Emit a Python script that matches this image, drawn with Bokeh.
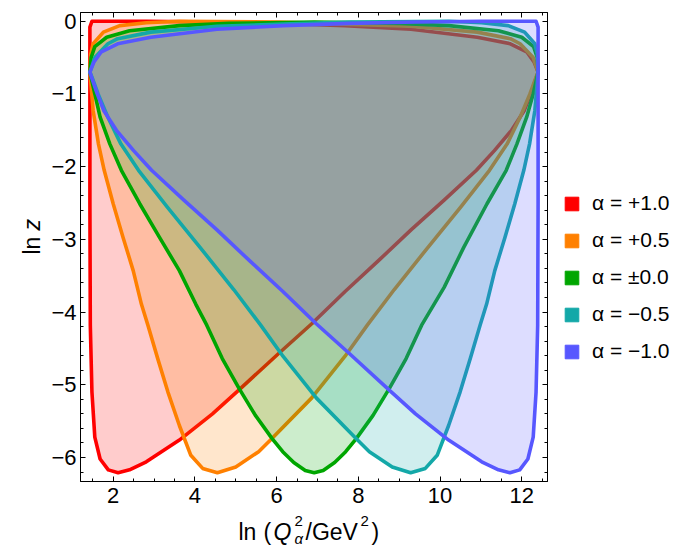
import numpy as np
from bokeh.plotting import figure
from bokeh.layouts import row, column
from bokeh.models import (Range1d, LinearAxis, FixedTicker, Label, Legend, LegendItem)
from bokeh.embed import file_html
from bokeh.resources import INLINE

# ---------------- data ----------------
alpha_labels = ["α = +1.0", "α = +0.5", "α = ±0.0", "α = −0.5", "α = −1.0"]
colors = ["#ff0000", "#ff8000", "#00a600", "#13a8a8", "#5757ff"]

x_tick_vals = [2, 4, 6, 8, 10, 12]
x_tick_text = ["2", "4", "6", "8", "10", "12"]
y_tick_vals = [0, -1, -2, -3, -4, -5, -6]
y_tick_text = ["0", "−1", "−2", "−3", "−4", "−5", "−6"]

# boundary of allowed region, alpha = +1.0  (ln Q^2, ln z)
lnq2_p10 = [1.43, 1.48, 2.81, 4.43, 6.05, 7.67, 9.29, 10.91, 11.72, 12.12, 12.30, 12.40,
            12.33, 12.22, 12.06, 11.75, 11.33, 10.89, 10.10, 9.29, 8.48, 7.67, 6.86, 6.05,
            5.08, 4.43, 3.62, 2.81, 2.40, 2.12, 1.88, 1.68, 1.55, 1.48, 1.44, 1.43]
lnz_p10 = [-0.08, 0.00, 0.00, -0.01, -0.03, -0.06, -0.11, -0.22, -0.31, -0.42, -0.56, -0.70,
           -0.82, -1.00, -1.23, -1.50, -1.78, -2.05, -2.46, -2.87, -3.30, -3.72, -4.16, -4.57,
           -5.07, -5.40, -5.76, -6.06, -6.17, -6.21, -6.17, -6.02, -5.72, -5.10, -4.18, -2.50]

# alpha = +0.5
lnq2_p05 = [1.43, 1.45, 1.51, 1.76, 2.16, 2.81, 3.62, 6.05, 7.67, 9.29, 10.91, 11.72, 11.96,
            12.28, 12.40,
            12.35, 12.20, 11.96, 11.64, 11.21, 10.50, 9.69, 8.88, 8.22, 7.67, 6.86, 5.85, 5.56,
            5.00, 4.55, 4.19, 3.90, 3.62, 3.34, 3.09, 2.85, 2.69, 2.49, 2.24, 2.00, 1.78, 1.64,
            1.51]
lnz_p05 = [-0.70, -0.45, -0.31, -0.15, -0.06, -0.02, 0.00, -0.01, -0.04, -0.07, -0.15, -0.24,
           -0.31, -0.50, -0.70,
           -0.77, -1.00, -1.32, -1.69, -2.05, -2.56, -3.12, -3.69, -4.18, -4.61, -5.18, -5.76,
           -5.92, -6.13, -6.21, -6.15, -5.97, -5.56, -5.10, -4.64, -4.18, -3.89, -3.43, -2.97,
           -2.51, -2.05, -1.69, -1.23]

# alpha = 0.0
lnq2_00 = [1.43, 1.46, 1.55, 1.84, 2.40, 3.62, 4.83, 6.92, 9.01, 10.22, 11.43, 12.00, 12.29,
           12.38, 12.40,
           12.28, 12.12, 11.88, 11.62, 11.15, 10.58, 10.10, 9.55, 9.17, 8.76, 8.36, 7.95, 7.69,
           7.42, 7.14, 6.92, 6.70, 6.42, 6.15, 5.89, 5.48, 5.08, 4.67, 4.29, 4.02, 3.62, 3.13,
           2.65, 2.20, 1.92, 1.68, 1.55]
lnz_00 = [-0.70, -0.50, -0.35, -0.22, -0.13, -0.06, -0.03, -0.01, -0.03, -0.06, -0.13, -0.22,
          -0.35, -0.50, -0.70,
          -1.00, -1.32, -1.69, -2.05, -2.51, -3.11, -3.66, -4.18, -4.64, -5.05, -5.42, -5.74,
          -5.92, -6.07, -6.18, -6.21, -6.18, -6.07, -5.92, -5.74, -5.42, -5.05, -4.64, -4.18,
          -3.89, -3.43, -2.97, -2.51, -2.05, -1.69, -1.32, -1.00]

# alpha = -0.5
lnq2_m05 = [1.43, 1.55, 1.87, 2.11, 2.92, 4.54, 6.16, 7.78, 10.21, 11.02, 11.67, 12.07, 12.32,
            12.38, 12.40,
            12.32, 12.19, 12.05, 11.83, 11.59, 11.34, 11.14, 10.98, 10.74, 10.49, 10.21, 9.93,
            9.64, 9.28, 8.83, 8.27, 7.98, 6.97, 6.16, 5.61, 4.95, 4.14, 3.33, 2.62, 2.19, 1.87,
            1.63, 1.48]
lnz_m05 = [-0.70, -0.50, -0.31, -0.24, -0.15, -0.07, -0.04, -0.01, 0.00, -0.02, -0.06, -0.15,
           -0.31, -0.45, -0.70,
           -1.23, -1.69, -2.05, -2.51, -2.97, -3.43, -3.89, -4.18, -4.64, -5.10, -5.56, -5.97,
           -6.15, -6.21, -6.13, -5.92, -5.76, -5.18, -4.61, -4.18, -3.69, -3.12, -2.56, -2.05,
           -1.69, -1.32, -1.00, -0.77]

# alpha = -1.0
lnq2_m10 = [1.43, 1.53, 1.71, 2.11, 2.92, 4.54, 6.16, 7.78, 9.40, 11.02, 12.35, 12.40,
            12.40, 12.39, 12.35, 12.28, 12.15, 11.95, 11.71, 11.43, 11.02, 10.21, 9.40, 8.75,
            7.78, 6.97, 6.16, 5.35, 4.54, 3.73, 2.94, 2.50, 2.08, 1.77, 1.61, 1.50]
lnz_m10 = [-0.70, -0.56, -0.42, -0.31, -0.22, -0.11, -0.06, -0.03, -0.01, 0.00, 0.00, -0.08,
           -2.50, -4.18, -5.10, -5.72, -6.02, -6.17, -6.21, -6.17, -6.06, -5.76, -5.40, -5.07,
           -4.57, -4.16, -3.72, -3.30, -2.87, -2.46, -2.05, -1.78, -1.50, -1.23, -1.00, -0.82]

curves_x = [lnq2_p10, lnq2_p05, lnq2_00, lnq2_m05, lnq2_m10]
curves_y = [lnz_p10, lnz_p05, lnz_00, lnz_m05, lnz_m10]

# ---------------- layout sizes ----------------
FONT = "Liberation Sans"
TOTAL_W = 681
YT_W = 48          # y-title strip
MAIN_W = 503
LEG_W = TOTAL_W - YT_W - MAIN_W
MAIN_H = 512
XT_H = 35


def blank(w, h):
    f = figure(width=w, height=h, x_range=Range1d(0, 1), y_range=Range1d(0, 1),
               output_backend="svg", toolbar_location=None,
               x_axis_location=None, y_axis_location=None,
               min_border=0, min_border_left=0, min_border_right=0,
               min_border_top=0, min_border_bottom=0)
    f.outline_line_color = None
    f.grid.visible = False
    f.background_fill_color = "white"
    f.border_fill_color = "white"
    return f


# ---------------- main figure ----------------
p = figure(width=MAIN_W, height=MAIN_H, x_range=Range1d(1.20, 12.63),
           y_range=Range1d(-6.33, 0.12),
           output_backend="svg", toolbar_location=None,
           min_border_left=29, min_border_right=4, min_border_top=12, min_border_bottom=31)
p.background_fill_color = "white"
p.border_fill_color = "white"
p.outline_line_color = "black"
p.outline_line_width = 1
p.grid.visible = False

for xs, ys, c in zip(curves_x, curves_y, colors):
    p.patch(xs, ys, fill_color=c, fill_alpha=0.2, line_color=c, line_width=3.6,
            line_join="round")

x_minor = list(np.arange(1.5, 12.6, 0.5))
y_minor = list(np.round(np.arange(-6.2, 0.11, 0.2), 2))
xt = FixedTicker(ticks=x_tick_vals, minor_ticks=x_minor)
yt = FixedTicker(ticks=y_tick_vals, minor_ticks=y_minor)


def style_axis(ax, ticker, tick_vals, tick_text):
    ax.ticker = ticker
    ax.axis_line_color = "black"
    ax.major_tick_line_color = "black"
    ax.minor_tick_line_color = "black"
    ax.major_tick_in = 5
    ax.major_tick_out = 0
    ax.minor_tick_in = 3
    ax.minor_tick_out = 0
    ax.major_label_text_font = FONT
    ax.major_label_text_color = "black"
    if tick_text is not None:
        ax.major_label_text_font_size = "22px"
        ax.major_label_overrides = dict(zip(tick_vals, tick_text))
    else:
        ax.major_label_text_font_size = "0px"
        ax.major_label_overrides = {v: "" for v in tick_vals}
        ax.major_label_standoff = 0


style_axis(p.xaxis[0], xt, x_tick_vals, x_tick_text)
style_axis(p.yaxis[0], yt, y_tick_vals, y_tick_text)
p.xaxis[0].major_label_standoff = 6
p.yaxis[0].major_label_standoff = 4

top_ax = LinearAxis()
style_axis(top_ax, xt, x_tick_vals, None)
p.add_layout(top_ax, "above")
right_ax = LinearAxis()
style_axis(right_ax, yt, y_tick_vals, None)
p.add_layout(right_ax, "right")

# ---------------- legend strip ----------------
leg = blank(LEG_W, MAIN_H)
items = []
for lab, c in zip(alpha_labels, colors):
    r = leg.quad(left=[np.nan], right=[np.nan], top=[np.nan], bottom=[np.nan],
                 fill_color=c, line_color=c, fill_alpha=1.0)
    items.append(LegendItem(label=lab, renderers=[r]))
legend = Legend(items=items, location=(12, 118), orientation="vertical",
                glyph_width=17, glyph_height=17, label_standoff=12, label_height=24,
                spacing=13, padding=0, margin=0,
                label_text_font=FONT, label_text_font_size="21px", label_text_color="black",
                border_line_color=None, background_fill_alpha=0)
leg.add_layout(legend, "center")


def piece(f, x, y, text, size="23px", style="normal", angle=0.0):
    f.add_layout(Label(x=x, y=y, x_units="canvas", y_units="canvas", text=text,
                       text_font=FONT, text_font_size=size, text_font_style=style,
                       text_color="black", text_align="left", text_baseline="alphabetic",
                       angle=angle))


# ---------------- y title strip ----------------
ytf = blank(YT_W, MAIN_H)
piece(ytf, 31, 254, "ln", angle=np.pi / 2)
piece(ytf, 31, 230, "z", style="italic", angle=np.pi / 2)

# ---------------- x title strip ----------------
xtf = blank(TOTAL_W, XT_H)
b = 19
piece(xtf, 238, b, "ln")
piece(xtf, 263, b, "(")
piece(xtf, 273, b, "Q", style="italic")
piece(xtf, 294, b - 11, "2", size="15px")
piece(xtf, 294, b + 7, "α", size="15px", style="italic")
piece(xtf, 305, b, "/GeV")
piece(xtf, 360, b - 11, "2", size="15px")
piece(xtf, 371, b, ")")

layout = column(row(ytf, p, leg, spacing=0), xtf, spacing=0)
open("out.html", "w").write(file_html(layout, INLINE))
